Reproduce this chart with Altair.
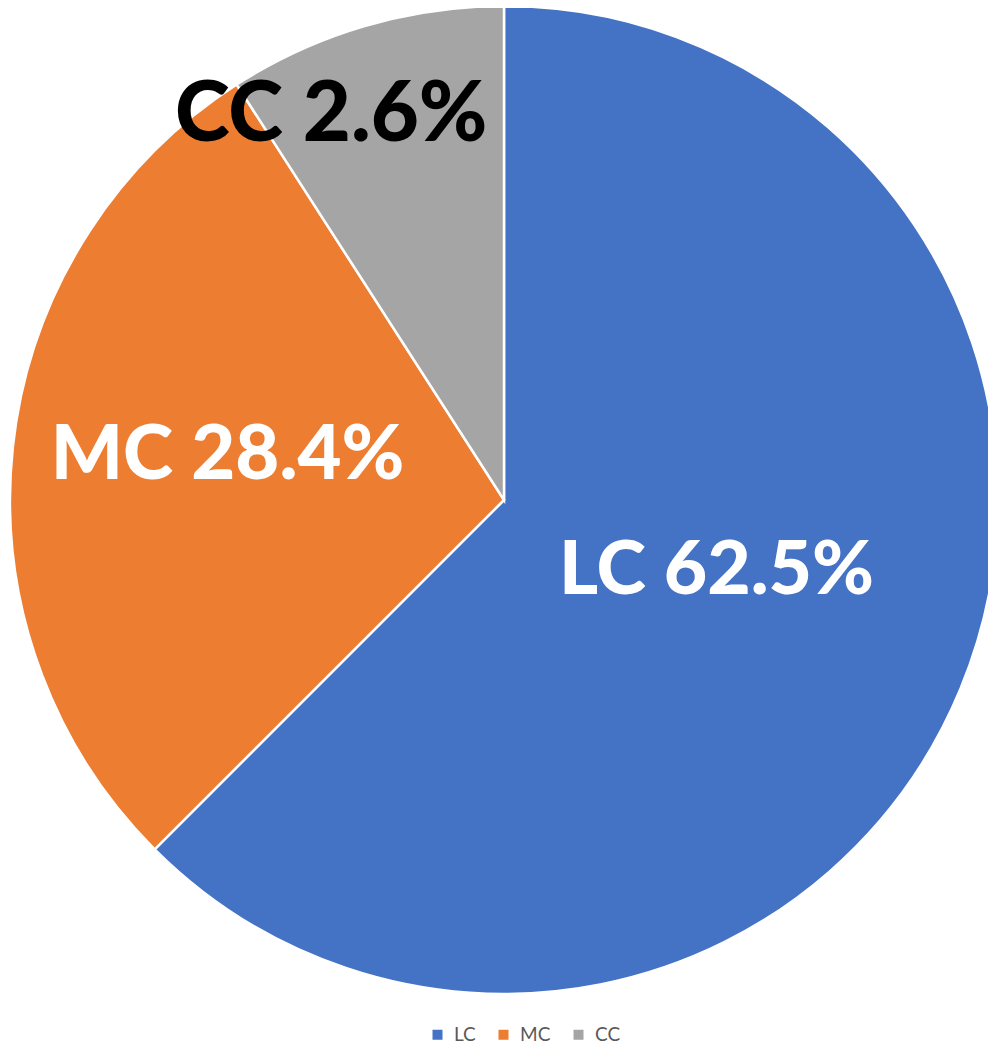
import altair as alt
import pandas as pd

categories = ["LC", "MC", "CC"]
shares = [62.5, 28.4, 9.1]
label_texts = ["LC 62.5%", "MC 28.4%", "CC 2.6%"]
colors = ["#4472C4", "#ED7D31", "#A5A5A5"]
slice_order = [0, 1, 2]

total = sum(shares)
df = pd.DataFrame({"cat": categories, "share": shares, "label": label_texts, "ord": slice_order})

CX, CY, R = 496, 492, 494

base = alt.Chart(df)
theta_scale = alt.Scale(domain=[0, total])

pie = base.mark_arc(outerRadius=R, stroke="white", strokeWidth=2.5).encode(
    theta=alt.Theta("share:Q", stack=True, scale=theta_scale),
    color=alt.Color(
        "cat:N",
        scale=alt.Scale(domain=categories, range=colors),
        sort=categories,
        legend=alt.Legend(
            title=None, orient="none", direction="horizontal",
            legendX=420, legendY=1017, symbolType="square", symbolSize=100,
            symbolStrokeWidth=0, labelFont="Lato", labelFontSize=19,
            labelColor="#595959", columnPadding=18, labelOffset=7, padding=0,
        ),
    ),
    order=alt.Order("ord:Q"),
    x=alt.value(CX),
    y=alt.value(CY),
)


def label_layer(cat, r, dx, dy, size, fill):
    return (
        base.transform_window(cum="sum(share)", sort=[alt.SortField("ord")], frame=[None, 0])
        .transform_calculate(mid="datum.cum - datum.share / 2")
        .transform_filter(alt.datum.cat == cat)
        .mark_text(radius=r, dx=dx, dy=dy, font="Lato", fontWeight=900,
                   fontSize=size, color=fill, align="center", baseline="middle")
        .encode(
            theta=alt.Theta("mid:Q", scale=theta_scale),
            text="label:N",
            x=alt.value(CX),
            y=alt.value(CY),
        )
    )


chart = alt.layer(
    pie,
    label_layer("LC", 230, 0, -17, 75, "white"),
    label_layer("MC", 278, 0, -14, 76, "white"),
    label_layer("CC", 400, -60, 0, 83, "black"),
).properties(
    width=980, height=1036, padding=0, autosize=alt.AutoSizeParams(type="none")
).configure_view(stroke=None)

chart.save("out.html", embed_options={"renderer": "svg", "actions": False})
